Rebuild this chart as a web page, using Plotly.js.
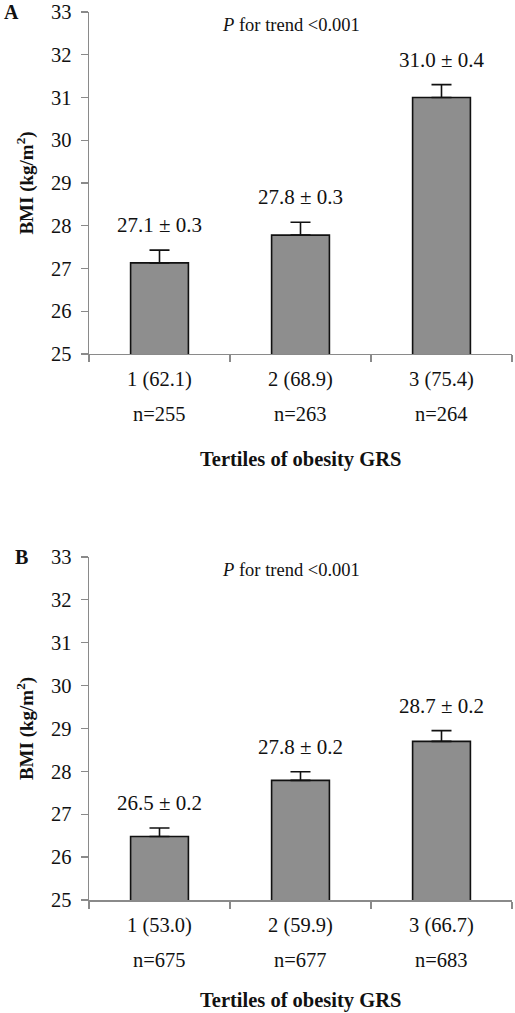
<!DOCTYPE html>
<html><head><meta charset="utf-8">
<script src="https://cdn.plot.ly/plotly-3.0.1.min.js"></script>
<style>html,body{margin:0;padding:0;background:#fff}#chart{width:515px;height:1013px}</style>
</head><body><div id="chart"></div>
<script>
const catsA = ['1 (62.1)', '2 (68.9)', '3 (75.4)'];
const nA = ['n=255', 'n=263', 'n=264'];
const meanA = [27.13, 27.78, 31.0];
const errA = [0.3, 0.3, 0.3];
const labelA = ['27.1 ± 0.3', '27.8 ± 0.3', '31.0 ± 0.4'];

const catsB = ['1 (53.0)', '2 (59.9)', '3 (66.7)'];
const nB = ['n=675', 'n=677', 'n=683'];
const meanB = [26.48, 27.79, 28.7];
const errB = [0.2, 0.2, 0.25];
const labelB = ['26.5 ± 0.2', '27.8 ± 0.2', '28.7 ± 0.2'];

const yTicks = [25, 26, 27, 28, 29, 30, 31, 32, 33];
const panelNames = ['A', 'B'];
const trendText = '<i>P</i> for trend &lt;0.001';
const xTitle = 'Tertiles of obesity GRS';
const yTitle = 'BMI (kg/m<sup>2</sup>)';

const FONT = 'Liberation Serif, Times New Roman, serif';
const axisGray = '#8a8a8a';

function barTrace(cats, vals, errs, xa, ya) {
  return {
    type: 'bar', x: cats, y: vals, xaxis: xa, yaxis: ya,
    width: 0.41,
    marker: {color: '#8e8e8e', line: {color: '#111', width: 1.6}},
    error_y: {type: 'data', symmetric: false, array: errs, arrayminus: errs.map(() => 0),
              color: '#111', thickness: 1.6, width: 10},
    hoverinfo: 'skip', showlegend: false
  };
}

const data = [barTrace(catsA, meanA, errA, 'x', 'y'), barTrace(catsB, meanB, errB, 'x2', 'y2')];

function xAxis(anchor) {
  return {
    anchor: anchor, type: 'category', showline: true, linecolor: axisGray, linewidth: 1.5,
    ticks: 'outside', tickson: 'boundaries', ticklen: 7, tickcolor: axisGray, tickwidth: 1.3,
    tickfont: {family: FONT, size: 20.5, color: '#111'}, showgrid: false, zeroline: false,
    ticklabelstandoff: 6, fixedrange: true
  };
}
function yAxis(anchor, domain) {
  return {
    anchor: anchor, domain: domain, range: [25, 33], tickvals: yTicks, ticktext: yTicks.map(String),
    showline: true, linecolor: axisGray, linewidth: 1.5, ticks: 'outside', ticklen: 7,
    tickcolor: axisGray, tickwidth: 1.3, tickfont: {family: FONT, size: 20.5, color: '#111'},
    showgrid: false, zeroline: false, ticklabelstandoff: 5,
    title: {text: '<b>' + yTitle + '</b>', font: {family: FONT, size: 19, color: '#111'}, standoff: 12},
    fixedrange: true
  };
}

const annotations = [];
function addPanel(cats, means, errs, labels, ns, xref, yref, yPanelTop, yAxisBottom, name, nameX, titleShift) {
  cats.forEach((c, i) => {
    annotations.push({x: c, y: means[i] + errs[i], xref: xref, yref: yref, text: labels[i],
      showarrow: false, yanchor: 'middle', yshift: 25, font: {family: FONT, size: 21, color: '#111'}});
    annotations.push({x: c, y: 25, xref: xref, yref: yref, text: ns[i], showarrow: false,
      yanchor: 'middle', yshift: -60, font: {family: FONT, size: 20.5, color: '#111'}});
  });
  annotations.push({x: 0.478, y: yPanelTop, xref: 'paper', yref: 'paper', text: trendText,
    showarrow: false, yanchor: 'middle', yshift: -13, font: {family: FONT, size: 18.5, color: '#111'}});
  annotations.push({x: nameX, y: yPanelTop, xref: 'paper', yref: 'paper', text: '<b>' + name + '</b>',
    showarrow: false, xanchor: 'left', yanchor: 'middle', font: {family: FONT, size: 20, color: '#111'}});
  annotations.push({x: 0.5, y: yAxisBottom, xref: 'paper', yref: 'paper', text: '<b>' + xTitle + '</b>',
    showarrow: false, yanchor: 'middle', yshift: titleShift, font: {family: FONT, size: 20.5, color: '#111'}});
}

const domA = [0.6149, 1.0];
const domB = [0.0, 0.3863];
addPanel(catsA, meanA, errA, labelA, nA, 'x', 'y', domA[1], domA[0], panelNames[0], -0.205, -106);
addPanel(catsB, meanB, errB, labelB, nB, 'x2', 'y2', domB[1], domB[0], panelNames[1], -0.18, -100);

const layout = {
  width: 515, height: 1013,
  margin: {l: 89, r: 3, t: 12, b: 113},
  paper_bgcolor: '#fff', plot_bgcolor: '#fff',
  font: {family: FONT, size: 19, color: '#111'},
  bargap: 0.59,
  xaxis: xAxis('y'), yaxis: yAxis('x', domA),
  xaxis2: xAxis('y2'), yaxis2: yAxis('x2', domB),
  annotations: annotations,
  showlegend: false
};

Plotly.newPlot('chart', data, layout, {displayModeBar: false, staticPlot: true});
</script>
</body></html>
